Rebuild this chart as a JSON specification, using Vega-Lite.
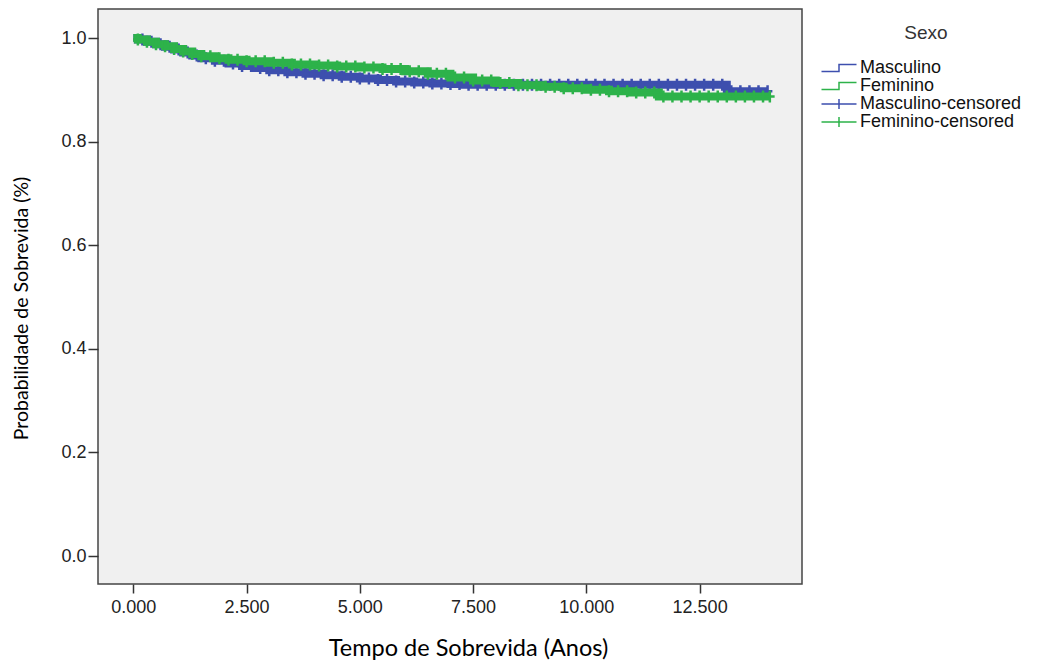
{
  "$schema": "https://vega.github.io/schema/vega-lite/v6.json",
  "width": 704,
  "height": 575,
  "autosize": {"type": "none"},
  "padding": {"left": 98, "top": 9, "right": 236, "bottom": 80},
  "background": "#ffffff",
  "config": {
    "view": {"fill": "#f0f0f0", "stroke": "#444444", "strokeWidth": 1.5},
    "axis": {"grid": false, "domain": false, "tickColor": "#333333", "tickWidth": 1.5, "labelFont": "Liberation Sans", "labelFontSize": 18, "labelColor": "#222222", "titleFont": "Lato", "titleFontWeight": "normal", "titleColor": "#000000"}
  },
  "datasets": {
    "curvas": [
      {"grupo": "Masculino", "t": 0, "s": 1.0},
      {"grupo": "Masculino", "t": 0.1, "s": 0.997},
      {"grupo": "Masculino", "t": 0.3, "s": 0.993},
      {"grupo": "Masculino", "t": 0.5, "s": 0.988},
      {"grupo": "Masculino", "t": 0.7, "s": 0.983},
      {"grupo": "Masculino", "t": 0.9, "s": 0.978},
      {"grupo": "Masculino", "t": 1.1, "s": 0.972},
      {"grupo": "Masculino", "t": 1.3, "s": 0.966},
      {"grupo": "Masculino", "t": 1.5, "s": 0.961},
      {"grupo": "Masculino", "t": 1.8, "s": 0.956},
      {"grupo": "Masculino", "t": 2.1, "s": 0.951},
      {"grupo": "Masculino", "t": 2.4, "s": 0.946},
      {"grupo": "Masculino", "t": 2.7, "s": 0.942},
      {"grupo": "Masculino", "t": 3.0, "s": 0.938},
      {"grupo": "Masculino", "t": 3.4, "s": 0.934},
      {"grupo": "Masculino", "t": 3.8, "s": 0.931},
      {"grupo": "Masculino", "t": 4.2, "s": 0.928},
      {"grupo": "Masculino", "t": 4.6, "s": 0.925},
      {"grupo": "Masculino", "t": 5.0, "s": 0.922},
      {"grupo": "Masculino", "t": 5.4, "s": 0.919},
      {"grupo": "Masculino", "t": 5.8, "s": 0.916},
      {"grupo": "Masculino", "t": 6.2, "s": 0.914},
      {"grupo": "Masculino", "t": 6.6, "s": 0.912},
      {"grupo": "Masculino", "t": 7.0, "s": 0.911},
      {"grupo": "Masculino", "t": 7.3, "s": 0.910},
      {"grupo": "Masculino", "t": 13.1, "s": 0.897},
      {"grupo": "Masculino", "t": 14.0, "s": 0.897},
      {"grupo": "Feminino", "t": 0, "s": 1.0},
      {"grupo": "Feminino", "t": 0.1, "s": 0.997},
      {"grupo": "Feminino", "t": 0.3, "s": 0.993},
      {"grupo": "Feminino", "t": 0.5, "s": 0.988},
      {"grupo": "Feminino", "t": 0.7, "s": 0.984},
      {"grupo": "Feminino", "t": 0.9, "s": 0.979},
      {"grupo": "Feminino", "t": 1.1, "s": 0.974},
      {"grupo": "Feminino", "t": 1.3, "s": 0.969},
      {"grupo": "Feminino", "t": 1.5, "s": 0.965},
      {"grupo": "Feminino", "t": 1.8, "s": 0.961},
      {"grupo": "Feminino", "t": 2.1, "s": 0.958},
      {"grupo": "Feminino", "t": 2.5, "s": 0.955},
      {"grupo": "Feminino", "t": 3.0, "s": 0.952},
      {"grupo": "Feminino", "t": 3.5, "s": 0.949},
      {"grupo": "Feminino", "t": 4.0, "s": 0.947},
      {"grupo": "Feminino", "t": 4.5, "s": 0.945},
      {"grupo": "Feminino", "t": 5.0, "s": 0.943},
      {"grupo": "Feminino", "t": 5.5, "s": 0.940},
      {"grupo": "Feminino", "t": 6.0, "s": 0.936},
      {"grupo": "Feminino", "t": 6.5, "s": 0.931},
      {"grupo": "Feminino", "t": 7.0, "s": 0.924},
      {"grupo": "Feminino", "t": 7.5, "s": 0.918},
      {"grupo": "Feminino", "t": 8.0, "s": 0.913},
      {"grupo": "Feminino", "t": 8.5, "s": 0.909},
      {"grupo": "Feminino", "t": 9.0, "s": 0.906},
      {"grupo": "Feminino", "t": 9.5, "s": 0.903},
      {"grupo": "Feminino", "t": 10.0, "s": 0.900},
      {"grupo": "Feminino", "t": 10.5, "s": 0.897},
      {"grupo": "Feminino", "t": 11.0, "s": 0.895},
      {"grupo": "Feminino", "t": 11.6, "s": 0.887},
      {"grupo": "Feminino", "t": 14.05, "s": 0.887}
    ],
    "censurados": [
      {"grupo": "Masculino-censored", "t": 0.2, "s": 0.997},
      {"grupo": "Masculino-censored", "t": 0.4, "s": 0.993},
      {"grupo": "Masculino-censored", "t": 0.6, "s": 0.988},
      {"grupo": "Masculino-censored", "t": 0.8, "s": 0.983},
      {"grupo": "Masculino-censored", "t": 1.0, "s": 0.978},
      {"grupo": "Masculino-censored", "t": 1.2, "s": 0.972},
      {"grupo": "Masculino-censored", "t": 1.4, "s": 0.966},
      {"grupo": "Masculino-censored", "t": 1.6, "s": 0.961},
      {"grupo": "Masculino-censored", "t": 1.8, "s": 0.956},
      {"grupo": "Masculino-censored", "t": 2.0, "s": 0.956},
      {"grupo": "Masculino-censored", "t": 2.2, "s": 0.951},
      {"grupo": "Masculino-censored", "t": 2.4, "s": 0.946},
      {"grupo": "Masculino-censored", "t": 2.6, "s": 0.946},
      {"grupo": "Masculino-censored", "t": 2.8, "s": 0.942},
      {"grupo": "Masculino-censored", "t": 3.0, "s": 0.938},
      {"grupo": "Masculino-censored", "t": 3.2, "s": 0.938},
      {"grupo": "Masculino-censored", "t": 3.4, "s": 0.934},
      {"grupo": "Masculino-censored", "t": 3.6, "s": 0.934},
      {"grupo": "Masculino-censored", "t": 3.8, "s": 0.931},
      {"grupo": "Masculino-censored", "t": 4.0, "s": 0.931},
      {"grupo": "Masculino-censored", "t": 4.2, "s": 0.928},
      {"grupo": "Masculino-censored", "t": 4.4, "s": 0.928},
      {"grupo": "Masculino-censored", "t": 4.6, "s": 0.925},
      {"grupo": "Masculino-censored", "t": 4.8, "s": 0.925},
      {"grupo": "Masculino-censored", "t": 5.0, "s": 0.922},
      {"grupo": "Masculino-censored", "t": 5.2, "s": 0.922},
      {"grupo": "Masculino-censored", "t": 5.4, "s": 0.919},
      {"grupo": "Masculino-censored", "t": 5.6, "s": 0.919},
      {"grupo": "Masculino-censored", "t": 5.8, "s": 0.916},
      {"grupo": "Masculino-censored", "t": 6.0, "s": 0.916},
      {"grupo": "Masculino-censored", "t": 6.2, "s": 0.914},
      {"grupo": "Masculino-censored", "t": 6.4, "s": 0.914},
      {"grupo": "Masculino-censored", "t": 6.6, "s": 0.912},
      {"grupo": "Masculino-censored", "t": 6.8, "s": 0.912},
      {"grupo": "Masculino-censored", "t": 7.0, "s": 0.911},
      {"grupo": "Masculino-censored", "t": 7.2, "s": 0.911},
      {"grupo": "Masculino-censored", "t": 7.4, "s": 0.910},
      {"grupo": "Masculino-censored", "t": 7.6, "s": 0.910},
      {"grupo": "Masculino-censored", "t": 7.8, "s": 0.910},
      {"grupo": "Masculino-censored", "t": 8.0, "s": 0.910},
      {"grupo": "Masculino-censored", "t": 8.2, "s": 0.910},
      {"grupo": "Masculino-censored", "t": 8.4, "s": 0.910},
      {"grupo": "Masculino-censored", "t": 8.6, "s": 0.910},
      {"grupo": "Masculino-censored", "t": 8.8, "s": 0.910},
      {"grupo": "Masculino-censored", "t": 9.0, "s": 0.910},
      {"grupo": "Masculino-censored", "t": 9.2, "s": 0.910},
      {"grupo": "Masculino-censored", "t": 9.4, "s": 0.910},
      {"grupo": "Masculino-censored", "t": 9.6, "s": 0.910},
      {"grupo": "Masculino-censored", "t": 9.8, "s": 0.910},
      {"grupo": "Masculino-censored", "t": 10.0, "s": 0.910},
      {"grupo": "Masculino-censored", "t": 10.2, "s": 0.910},
      {"grupo": "Masculino-censored", "t": 10.4, "s": 0.910},
      {"grupo": "Masculino-censored", "t": 10.6, "s": 0.910},
      {"grupo": "Masculino-censored", "t": 10.8, "s": 0.910},
      {"grupo": "Masculino-censored", "t": 11.0, "s": 0.910},
      {"grupo": "Masculino-censored", "t": 11.2, "s": 0.910},
      {"grupo": "Masculino-censored", "t": 11.4, "s": 0.910},
      {"grupo": "Masculino-censored", "t": 11.6, "s": 0.910},
      {"grupo": "Masculino-censored", "t": 11.8, "s": 0.910},
      {"grupo": "Masculino-censored", "t": 12.0, "s": 0.910},
      {"grupo": "Masculino-censored", "t": 12.2, "s": 0.910},
      {"grupo": "Masculino-censored", "t": 12.4, "s": 0.910},
      {"grupo": "Masculino-censored", "t": 12.6, "s": 0.910},
      {"grupo": "Masculino-censored", "t": 12.8, "s": 0.910},
      {"grupo": "Masculino-censored", "t": 13.0, "s": 0.910},
      {"grupo": "Masculino-censored", "t": 13.2, "s": 0.897},
      {"grupo": "Masculino-censored", "t": 13.4, "s": 0.897},
      {"grupo": "Masculino-censored", "t": 13.6, "s": 0.897},
      {"grupo": "Masculino-censored", "t": 13.8, "s": 0.897},
      {"grupo": "Masculino-censored", "t": 14.0, "s": 0.897},
      {"grupo": "Feminino-censored", "t": 0.1, "s": 0.997},
      {"grupo": "Feminino-censored", "t": 0.3, "s": 0.993},
      {"grupo": "Feminino-censored", "t": 0.5, "s": 0.988},
      {"grupo": "Feminino-censored", "t": 0.7, "s": 0.984},
      {"grupo": "Feminino-censored", "t": 0.9, "s": 0.979},
      {"grupo": "Feminino-censored", "t": 1.1, "s": 0.974},
      {"grupo": "Feminino-censored", "t": 1.3, "s": 0.969},
      {"grupo": "Feminino-censored", "t": 1.5, "s": 0.965},
      {"grupo": "Feminino-censored", "t": 1.7, "s": 0.965},
      {"grupo": "Feminino-censored", "t": 1.9, "s": 0.961},
      {"grupo": "Feminino-censored", "t": 2.1, "s": 0.958},
      {"grupo": "Feminino-censored", "t": 2.3, "s": 0.958},
      {"grupo": "Feminino-censored", "t": 2.5, "s": 0.955},
      {"grupo": "Feminino-censored", "t": 2.7, "s": 0.955},
      {"grupo": "Feminino-censored", "t": 2.9, "s": 0.955},
      {"grupo": "Feminino-censored", "t": 3.1, "s": 0.952},
      {"grupo": "Feminino-censored", "t": 3.3, "s": 0.952},
      {"grupo": "Feminino-censored", "t": 3.5, "s": 0.949},
      {"grupo": "Feminino-censored", "t": 3.7, "s": 0.949},
      {"grupo": "Feminino-censored", "t": 3.9, "s": 0.949},
      {"grupo": "Feminino-censored", "t": 4.1, "s": 0.947},
      {"grupo": "Feminino-censored", "t": 4.3, "s": 0.947},
      {"grupo": "Feminino-censored", "t": 4.5, "s": 0.945},
      {"grupo": "Feminino-censored", "t": 4.7, "s": 0.945},
      {"grupo": "Feminino-censored", "t": 4.9, "s": 0.945},
      {"grupo": "Feminino-censored", "t": 5.1, "s": 0.943},
      {"grupo": "Feminino-censored", "t": 5.3, "s": 0.943},
      {"grupo": "Feminino-censored", "t": 5.5, "s": 0.940},
      {"grupo": "Feminino-censored", "t": 5.7, "s": 0.940},
      {"grupo": "Feminino-censored", "t": 5.9, "s": 0.940},
      {"grupo": "Feminino-censored", "t": 6.1, "s": 0.936},
      {"grupo": "Feminino-censored", "t": 6.3, "s": 0.936},
      {"grupo": "Feminino-censored", "t": 6.5, "s": 0.931},
      {"grupo": "Feminino-censored", "t": 6.7, "s": 0.931},
      {"grupo": "Feminino-censored", "t": 6.9, "s": 0.931},
      {"grupo": "Feminino-censored", "t": 7.1, "s": 0.924},
      {"grupo": "Feminino-censored", "t": 7.3, "s": 0.924},
      {"grupo": "Feminino-censored", "t": 7.5, "s": 0.918},
      {"grupo": "Feminino-censored", "t": 7.7, "s": 0.918},
      {"grupo": "Feminino-censored", "t": 7.9, "s": 0.918},
      {"grupo": "Feminino-censored", "t": 8.1, "s": 0.913},
      {"grupo": "Feminino-censored", "t": 8.3, "s": 0.913},
      {"grupo": "Feminino-censored", "t": 8.5, "s": 0.909},
      {"grupo": "Feminino-censored", "t": 8.7, "s": 0.909},
      {"grupo": "Feminino-censored", "t": 8.9, "s": 0.909},
      {"grupo": "Feminino-censored", "t": 9.1, "s": 0.906},
      {"grupo": "Feminino-censored", "t": 9.3, "s": 0.906},
      {"grupo": "Feminino-censored", "t": 9.5, "s": 0.903},
      {"grupo": "Feminino-censored", "t": 9.7, "s": 0.903},
      {"grupo": "Feminino-censored", "t": 9.9, "s": 0.903},
      {"grupo": "Feminino-censored", "t": 10.1, "s": 0.900},
      {"grupo": "Feminino-censored", "t": 10.3, "s": 0.900},
      {"grupo": "Feminino-censored", "t": 10.5, "s": 0.897},
      {"grupo": "Feminino-censored", "t": 10.7, "s": 0.897},
      {"grupo": "Feminino-censored", "t": 10.9, "s": 0.897},
      {"grupo": "Feminino-censored", "t": 11.1, "s": 0.895},
      {"grupo": "Feminino-censored", "t": 11.3, "s": 0.895},
      {"grupo": "Feminino-censored", "t": 11.5, "s": 0.895},
      {"grupo": "Feminino-censored", "t": 11.7, "s": 0.887},
      {"grupo": "Feminino-censored", "t": 11.9, "s": 0.887},
      {"grupo": "Feminino-censored", "t": 12.1, "s": 0.887},
      {"grupo": "Feminino-censored", "t": 12.3, "s": 0.887},
      {"grupo": "Feminino-censored", "t": 12.5, "s": 0.887},
      {"grupo": "Feminino-censored", "t": 12.7, "s": 0.887},
      {"grupo": "Feminino-censored", "t": 12.9, "s": 0.887},
      {"grupo": "Feminino-censored", "t": 13.1, "s": 0.887},
      {"grupo": "Feminino-censored", "t": 13.3, "s": 0.887},
      {"grupo": "Feminino-censored", "t": 13.5, "s": 0.887},
      {"grupo": "Feminino-censored", "t": 13.7, "s": 0.887},
      {"grupo": "Feminino-censored", "t": 13.9, "s": 0.887},
      {"grupo": "Feminino-censored", "t": 14.05, "s": 0.887}
    ]
  },
  "encoding": {
    "x": {
      "field": "t", "type": "quantitative",
      "scale": {"domain": [-0.78, 14.76], "nice": false, "zero": false},
      "axis": {"values": [0, 2.5, 5, 7.5, 10, 12.5], "format": ".3f", "tickSize": 9, "labelPadding": 5, "title": "Tempo de Sobrevida (Anos)", "titleFontSize": 23.5, "titlePadding": 20, "titleX": 370, "titleAlign": "center"}
    },
    "y": {
      "field": "s", "type": "quantitative",
      "scale": {"domain": [-0.054, 1.056], "nice": false, "zero": false},
      "axis": {"values": [0, 0.2, 0.4, 0.6, 0.8, 1.0], "format": ".1f", "tickSize": 10, "labelPadding": 2, "title": "Probabilidade de Sobrevida (%)", "titleFontSize": 19.5, "titlePadding": 29, "titleY": 299, "titleAlign": "center"}
    },
    "color": {
      "field": "grupo", "type": "nominal",
      "scale": {"domain": ["Masculino", "Feminino", "Masculino-censored", "Feminino-censored"], "range": ["#3d4fae", "#2db24a", "#3d4fae", "#2db24a"]},
      "legend": {
        "title": "Sexo",
        "orient": "none", "legendX": 732, "legendY": 15,
        "padding": 0,
        "titleAnchor": "middle", "titleFont": "Liberation Sans", "titleFontSize": 19, "titleFontWeight": "normal", "titleColor": "#333333", "titlePadding": 16,
        "labelFont": "Liberation Sans", "labelFontSize": 18, "labelColor": "#111111", "labelOffset": 12, "labelLimit": 0,
        "symbolSize": 100, "rowPadding": 0,
        "encode": {
          "symbols": {
            "update": {
              "shape": {"signal": "indexof(datum.value, 'censored') >= 0 ? 'M-3.5,0H3.5M0,-1V1' : 'M-3.5,0.7H0V-0.7H3.5'"},
              "fill": {"value": "transparent"},
              "stroke": {"scale": "color", "field": "value"},
              "strokeWidth": {"value": 1.5},
              "opacity": {"value": 1}
            }
          }
        }
      }
    }
  },
  "layer": [
    {
      "data": {"name": "curvas"},
      "transform": [{"filter": "datum.grupo == 'Masculino'"}],
      "mark": {"type": "line", "interpolate": "step-after", "strokeWidth": 8}
    },
    {
      "data": {"name": "censurados"},
      "transform": [{"filter": "datum.grupo == 'Masculino-censored'"}],
      "mark": {"type": "point", "shape": "M-0.8,0H0.8M0,-1V1", "filled": false, "size": 144, "strokeWidth": 2.5, "opacity": 1}
    },
    {
      "data": {"name": "curvas"},
      "transform": [{"filter": "datum.grupo == 'Feminino'"}],
      "mark": {"type": "line", "interpolate": "step-after", "strokeWidth": 8}
    },
    {
      "data": {"name": "censurados"},
      "transform": [{"filter": "datum.grupo == 'Feminino-censored'"}],
      "mark": {"type": "point", "shape": "M-0.8,0H0.8M0,-1V1", "filled": false, "size": 144, "strokeWidth": 2.5, "opacity": 1}
    }
  ]
}
